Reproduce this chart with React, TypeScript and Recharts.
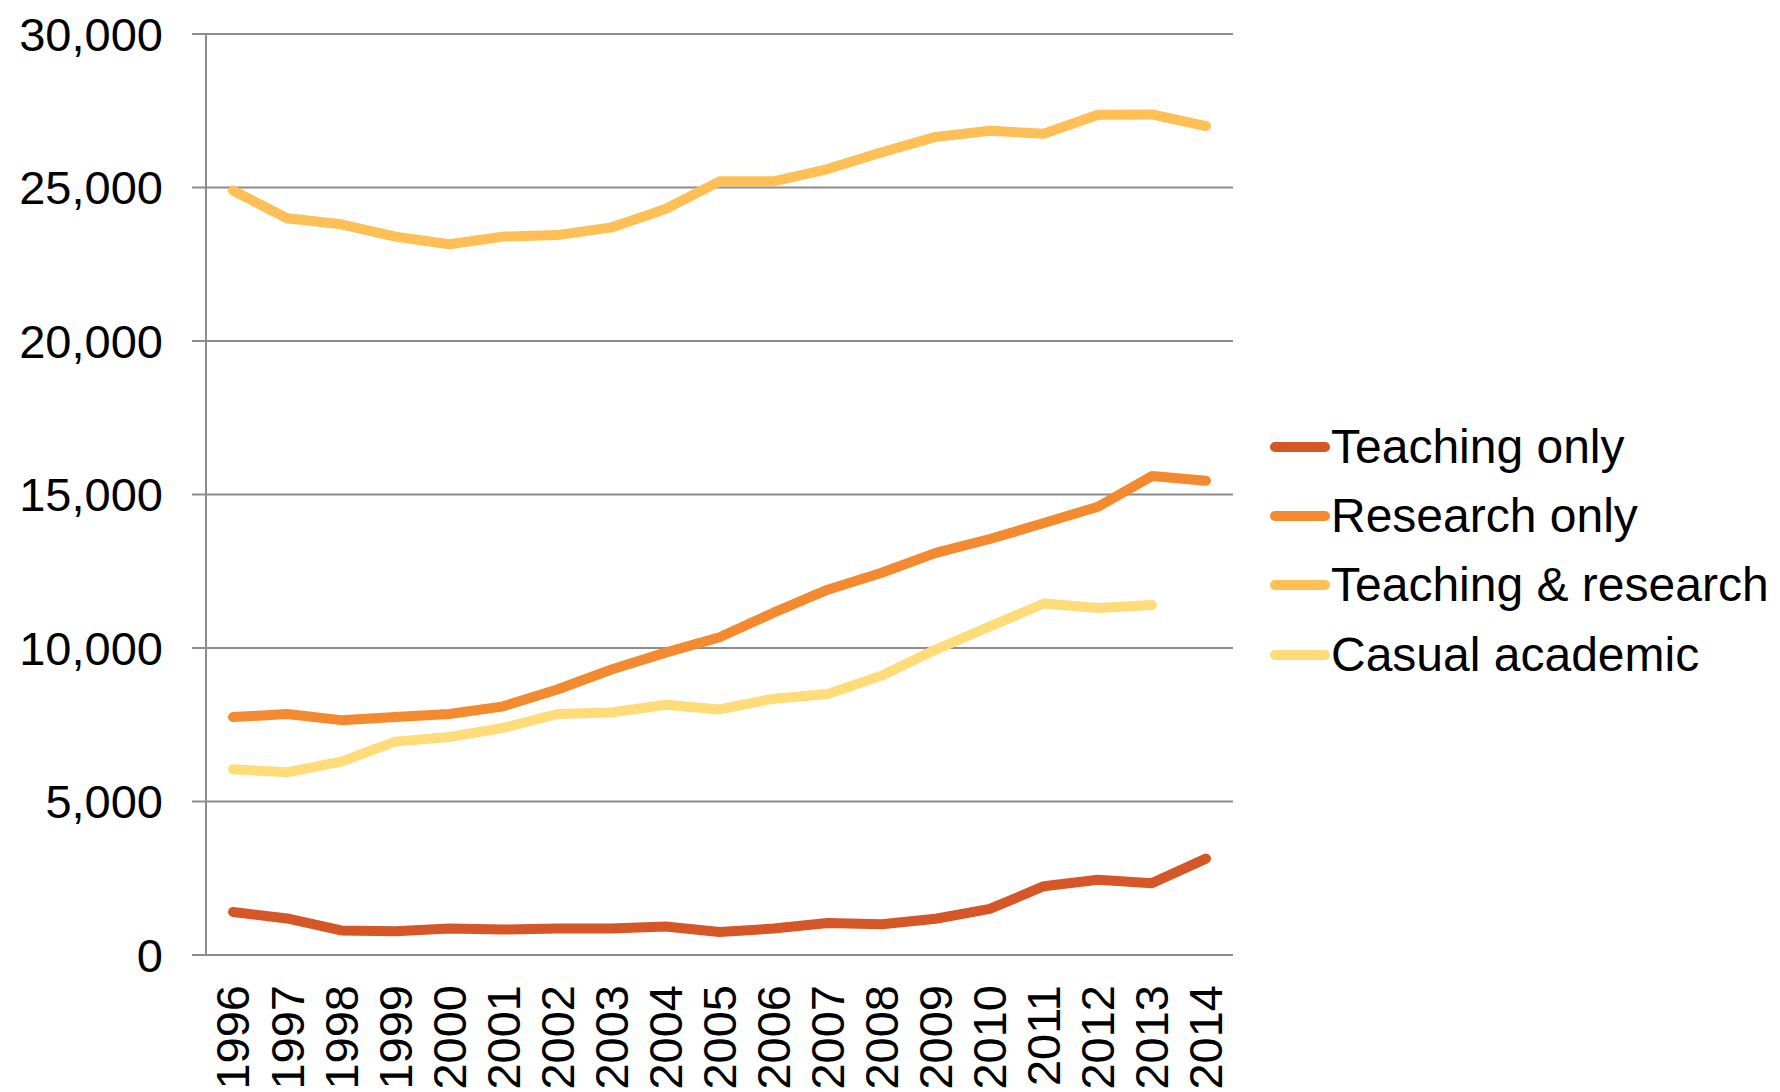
import React from 'react';
import { LineChart, Line, XAxis, YAxis, CartesianGrid, Legend } from 'recharts';

const years = [1996, 1997, 1998, 1999, 2000, 2001, 2002, 2003, 2004, 2005, 2006, 2007, 2008, 2009, 2010, 2011, 2012, 2013, 2014];
const teachingOnly = [1400, 1190, 800, 770, 860, 830, 860, 860, 930, 750, 860, 1040, 1000, 1180, 1500, 2240, 2450, 2340, 3140];
const researchOnly = [7750, 7850, 7650, 7750, 7850, 8100, 8650, 9300, 9850, 10350, 11150, 11900, 12450, 13100, 13550, 14070, 14600, 15600, 15450];
const teachingResearch = [24900, 24000, 23800, 23400, 23150, 23400, 23450, 23700, 24300, 25200, 25200, 25600, 26150, 26650, 26850, 26750, 27370, 27380, 27000];
const casualAcademic = [6050, 5950, 6300, 6950, 7100, 7400, 7850, 7900, 8150, 8000, 8350, 8500, 9100, 9950, 10700, 11450, 11300, 11400, null];
const yTicks = [0, 5000, 10000, 15000, 20000, 25000, 30000];

const seriesNames = ['Teaching only', 'Research only', 'Teaching & research', 'Casual academic'];
const seriesKeys = ['teachingOnly', 'researchOnly', 'teachingResearch', 'casualAcademic'];
const seriesColors = ['#D55627', '#F38A30', '#FDBF56', '#FEDC7A'];

const data = years.map((year, i) => ({
  year,
  teachingOnly: teachingOnly[i],
  researchOnly: researchOnly[i],
  teachingResearch: teachingResearch[i],
  casualAcademic: casualAcademic[i],
}));

const boundaryTicks = [...years.map((y) => y - 0.5), years[years.length - 1] + 0.5];
const xDomain = [years[0] - 0.5, years[years.length - 1] + 0.5];

const FONT = '"Liberation Sans", Arial, sans-serif';
const AXIS = '#8c8c8c';

const YearTick = (props: any) => {
  const { x, y, payload } = props;
  return (
    <text
      x={x}
      y={y}
      transform={`rotate(-90, ${x}, ${y})`}
      textAnchor="end"
      dy="0.35em"
      fontSize={47}
      fill="#000"
      fontFamily={FONT}
    >
      {String(payload.value)}
    </text>
  );
};

const renderLegend = (props: any) => {
  const items = [...(props.payload || [])].sort(
    (a: any, b: any) => seriesNames.indexOf(a.value) - seriesNames.indexOf(b.value)
  );
  return (
    <div style={{ fontFamily: FONT }}>
      {items.map((entry: any) => (
        <div key={entry.value} style={{ display: 'flex', alignItems: 'center', height: 69.3 }}>
          <svg width={66} height={14} style={{ display: 'block' }}>
            <line x1={10} y1={7} x2={60} y2={7} stroke={entry.color} strokeWidth={10} strokeLinecap="round" />
          </svg>
          <span style={{ fontSize: 48, color: '#000', lineHeight: 1, whiteSpace: 'nowrap' }}>{entry.value}</span>
        </div>
      ))}
    </div>
  );
};

export default function App() {
  return (
    <div style={{ position: 'absolute', left: 0, top: 0, width: 1780, height: 1092, background: '#fff' }}>
      <LineChart
        width={1780}
        height={1092}
        data={data}
        margin={{ top: 34, right: 547, bottom: 0, left: 0 }}
        style={{ fontFamily: FONT }}
      >
        <CartesianGrid vertical={false} stroke={AXIS} strokeWidth={2} />
        <XAxis
          xAxisId={0}
          type="number"
          dataKey="year"
          domain={xDomain}
          ticks={boundaryTicks}
          interval={0}
          tick={false}
          tickSize={14}
          height={0}
          axisLine={{ stroke: AXIS, strokeWidth: 2 }}
          tickLine={{ stroke: AXIS, strokeWidth: 2 }}
          allowDecimals
        />
        <XAxis
          xAxisId="lbl"
          type="number"
          dataKey="year"
          domain={xDomain}
          ticks={years}
          interval={0}
          tick={<YearTick />}
          tickSize={0}
          tickMargin={30}
          height={137}
          axisLine={false}
          tickLine={false}
        />
        <YAxis
          domain={[0, 30000]}
          ticks={yTicks}
          interval={0}
          width={206}
          tickSize={14}
          tickMargin={29}
          tickFormatter={(v: number) => v.toLocaleString('en-US')}
          tick={{ fill: '#000', fontSize: 47, fontFamily: FONT }}
          axisLine={{ stroke: AXIS, strokeWidth: 2 }}
          tickLine={{ stroke: AXIS, strokeWidth: 2 }}
        />
        <Legend
          layout="vertical"
          align="center"
          verticalAlign="middle"
          content={renderLegend}
          wrapperStyle={{ left: 1265, top: 412, width: 515 }}
        />
        {seriesKeys.map((k, i) => (
          <Line
            key={k}
            xAxisId="lbl"
            type="linear"
            dataKey={k}
            name={seriesNames[i]}
            stroke={seriesColors[i]}
            strokeWidth={10}
            strokeLinecap="round"
            strokeLinejoin="round"
            dot={false}
            activeDot={false}
            isAnimationActive={false}
          />
        ))}
      </LineChart>
    </div>
  );
}
